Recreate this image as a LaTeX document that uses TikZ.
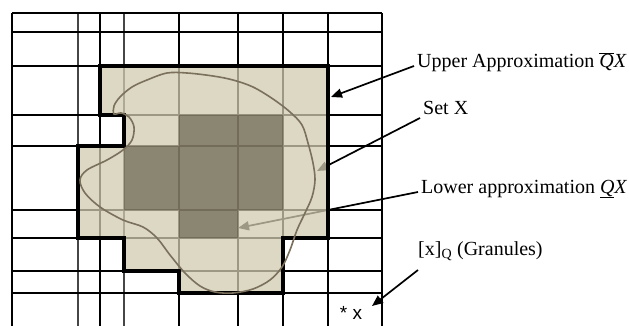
\documentclass[tikz,border=0pt]{standalone}
\usepackage{fontspec}
\setmainfont{Liberation Serif}
\newfontfamily\sansx{Liberation Sans}
\usepackage{tikz}
\usetikzlibrary{arrows.meta}
\definecolor{tanfill}{RGB}{209,203,175}
\definecolor{tandark}{RGB}{86,79,60}
\definecolor{setline}{RGB}{122,112,92}
\definecolor{thingrid}{RGB}{70,70,70}

\begin{document}
\begin{tikzpicture}[x=1pt,y=-1pt,>={Triangle[length=11pt,width=9pt]},
    gridline/.style={line width=2.8pt,black},
    gridthin/.style={line width=1.8pt,thingrid},
    pointer/.style={->,line width=1.7pt,black},
    lbl/.style={anchor=base west,inner sep=0pt,font=\fontsize{20}{23}\selectfont}]
  \useasboundingbox (0,0) rectangle (629,326);
  % labels on the right
  \node[lbl] (upper) at (417,68) {Upper Approximation $\overline{\mbox{\textit{Q}}}\mbox{\textit{X}}$};
  \node[lbl] (setx) at (423,115) {Set X};
  \node[lbl] (lower) at (421,193) {Lower approximation $\underline{\mbox{\textit{Q}}}\mbox{\textit{X}}$};
  \node[lbl] (gran) at (418,255) {[x]\textsubscript{Q} (Granules)};
  \node[inner sep=0pt,font=\sansx\fontsize{19}{21}\selectfont] (obj) at (351,313) {* x};
  % arrow targets
  \coordinate (uptip) at (331,97);
  \coordinate (settip) at (317,171);
  \coordinate (lowtip) at (238,228);
  \coordinate (granfrom) at (418,270);
  \coordinate (grantip) at (372,306);
  % the grid
  \foreach \gx in {12,100,179,238,283,328,382}
    \draw[gridline] (\gx,13) -- (\gx,326);
  \foreach \gx in {78,124}
    \draw[gridthin] (\gx,13) -- (\gx,326);
  \foreach \gy in {13,32,66,115,146,210,238,271,293}
    \draw[gridline] (12,\gy) -- (382,\gy);
  % arrows (under the shading)
  \draw[pointer] ([xshift=-3pt,yshift=2pt]upper.base west) -- (uptip);
  \draw[pointer] ([xshift=-3pt,yshift=-3pt]setx.base west) -- (settip);
  \draw[pointer] ([xshift=-3pt,yshift=1pt]lower.base west) -- (lowtip);
  \draw[pointer] (granfrom) -- (grantip);
  % upper and lower approximation
  \fill[tanfill,opacity=0.75] (100,66) -- (328,66) -- (328,238) -- (283,238) -- (283,293)
    -- (179,293) -- (179,271) -- (124,271) -- (124,238) -- (78,238) -- (78,146)
    -- (124,146) -- (124,115) -- (100,115) -- cycle;
  \fill[tandark,opacity=0.6] (179,115) -- (283,115) -- (283,210) -- (238,210) -- (238,238)
    -- (179,238) -- (179,210) -- (124,210) -- (124,146) -- (179,146) -- cycle;
  \draw[line width=3.4pt,black,line join=miter] (100,66) -- (328,66) -- (328,238) -- (283,238) -- (283,293)
    -- (179,293) -- (179,271) -- (124,271) -- (124,238) -- (78,238) -- (78,146)
    -- (124,146) -- (124,115) -- (100,115) -- cycle;
  % set X
  \draw[setline,line width=1.6pt] plot[smooth cycle,tension=0.55] coordinates {
    (167,73) (187,73) (213,76) (233,80) (253,87) (273,99) (290,112) (302,125)
    (308,143) (313,163) (315,180) (312,197) (305,213) (297,230) (290,250) (282,267)
    (270,280) (253,289) (233,293) (215,292) (200,286) (185,273) (170,255) (157,238)
    (143,227) (123,220) (100,207) (85,193) (80,180) (87,170) (107,160) (123,150)
    (132,140) (134,127) (129,117) (121,113) (114,114) (114,106) (120,97) (132,87) (147,80)};
\end{tikzpicture}
\end{document}
